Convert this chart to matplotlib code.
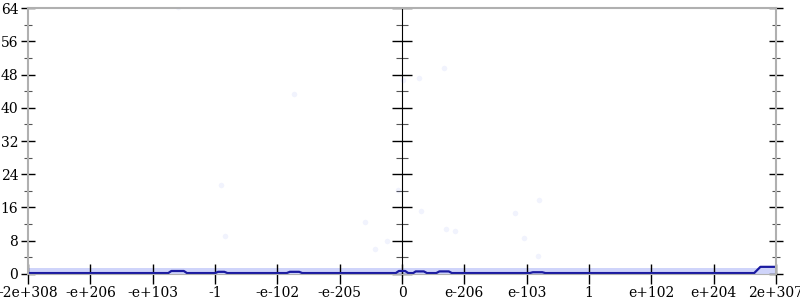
import numpy as np
import matplotlib
matplotlib.use("Agg")
from matplotlib import pyplot as plt

# Tick positions (in tick-slot units) and their labels.
tick_pos = list(range(-6, 7))
tick_labels = ['-2e+308', '-e+206', '-e+103', '-1', '-e-102', '-e-205', '0',
               'e-206', 'e-103', '1', 'e+102', 'e+204', '2e+307']

# Main line.
line_x = [-6.0, -3.75, -3.7, -3.5, -3.45, -3.0, -2.95, -2.85, -2.8,
          -1.85, -1.8, -1.65, -1.6, -0.1, -0.05, 0.05, 0.1,
          0.18, 0.22, 0.35, 0.4, 0.55, 0.6, 0.75, 0.8,
          2.05, 2.1, 2.25, 2.3, 5.65, 5.75, 6.0]
line_y = [0.2, 0.2, 0.7, 0.7, 0.2, 0.2, 0.5, 0.5, 0.2,
          0.2, 0.5, 0.5, 0.2, 0.2, 0.7, 0.7, 0.2,
          0.2, 0.6, 0.6, 0.2, 0.2, 0.6, 0.6, 0.2,
          0.2, 0.4, 0.4, 0.2, 0.2, 1.7, 1.7]

# Faint band around the line.
band_x = [-6.0, 6.0]
band_lo = [0.0, 0.0]
band_hi = [1.4, 1.4]

# Faint outlier samples.
pts_x = [-3.60, -2.90, -2.84, -1.74, -0.60, -0.24, -0.43, -0.06, 0.02,
         0.27, 0.31, 0.68, 0.71, 0.85, 1.81, 1.95, 2.20, 2.18]
pts_y = [64.2, 21.4, 9.1, 43.3, 12.5, 7.9, 6.0, 20.2, 46.7,
         47.2, 15.2, 49.6, 10.8, 10.3, 14.7, 8.7, 17.8, 4.3]

fig = plt.figure(figsize=(8, 3), dpi=100)
ax = fig.add_axes([0.035, 0.087, 0.935, 0.886])
plt.rcParams['font.family'] = 'DejaVu Serif'

ax.fill_between(band_x, band_lo, band_hi, color='#5566ee', alpha=0.28, lw=0)
ax.scatter(pts_x, pts_y, s=16, color='#4455ee', alpha=0.07, lw=0)
ax.plot(line_x, line_y, color='#1a1aa0', lw=1.6)

ax.set_xlim(-6, 6)
ax.set_ylim(0, 64)
ax.set_xticks(tick_pos)
ax.set_xticklabels(tick_labels, family='DejaVu Serif', fontsize=10)
ax.set_yticks(np.arange(0, 65, 8))
ax.set_yticks(np.arange(0, 65, 4), minor=True)
for lab in ax.get_yticklabels():
    lab.set_family('DejaVu Serif')
    lab.set_fontsize(10)

for s in ['left', 'right', 'top']:
    ax.spines[s].set_color('#b0b0b0')
    ax.spines[s].set_linewidth(1.5)
ax.spines['bottom'].set_color('#b0b0b0')

ax.tick_params(axis='y', which='major', direction='inout', length=10,
               width=1, right=True, pad=2)
ax.tick_params(axis='y', which='minor', direction='inout', length=6,
               width=0.8, right=True, color='#555555')
ax.tick_params(axis='x', direction='inout', length=14, width=1, pad=2)

# Middle vertical axis at zero.
mid = ax.secondary_yaxis(0.5)
mid.spines['left'].set_color('#555555')
mid.spines['left'].set_linewidth(1)
mid.set_yticks(np.arange(0, 65, 8))
mid.set_yticks(np.arange(0, 65, 4), minor=True)
mid.set_yticklabels([])
mid.tick_params(which='major', direction='inout', length=14, width=1)
mid.tick_params(which='minor', direction='inout', length=8, width=0.8,
                color='#555555')

fig.savefig('out.png', dpi=100)
